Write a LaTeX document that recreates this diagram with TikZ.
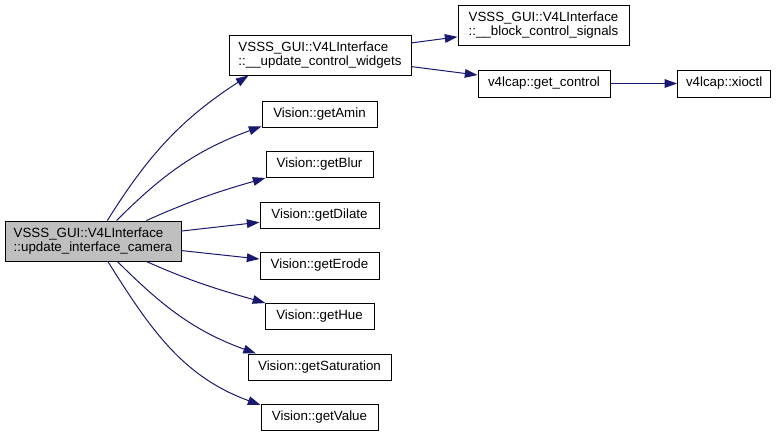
\documentclass[tikz,border=0pt]{standalone}
\usepackage{fontspec}
\setmainfont{Liberation Sans}
\usepackage{tikz}
\usetikzlibrary{arrows.meta,positioning}
\definecolor{edgeblue}{HTML}{191970}
\tikzset{
    call/.style={-{Triangle[length=9.5pt, width=6.5pt]}, edgeblue, line width=0.75pt},
    func/.style={draw, rectangle, line width=0.75pt, minimum height=19.5pt, inner sep=2pt, font=\fontsize{10}{10.5}\selectfont},
    twoline/.style={func, align=left, minimum height=30pt},
    root/.style={twoline, fill=black!25}
}

\begin{document}
\begin{tikzpicture}[x=0.75pt, y=0.75pt]
                    \useasboundingbox (0,0) rectangle (781,437);
                    \node[root, minimum width=132pt] (main) at (93,196) {VSSS\_GUI::V4LInterface\\::update\_interface\_camera};
                    \node[twoline, minimum width=136.5pt] (ucw) at (320,382) {VSSS\_GUI::V4LInterface\\::\_\_update\_control\_widgets};
                    \node[func, minimum width=86.25pt] (amin) at (319.5,323) {Vision::getAmin};
                    \node[func, minimum width=80.25pt] (blur) at (319.5,272.5) {Vision::getBlur};
                    \node[func, minimum width=89.25pt] (dilate) at (319.5,221.5) {Vision::getDilate};
                    \node[func, minimum width=89.25pt, minimum height=20.25pt] (erode) at (319.5,171.5) {Vision::getErode};
                    \node[func, minimum width=81.75pt] (hue) at (319.5,120.5) {Vision::getHue};
                    \node[func, minimum width=107.25pt] (sat) at (319.5,70) {Vision::getSaturation};
                    \node[func, minimum width=87.75pt] (value) at (319.5,19.5) {Vision::getValue};
                    \node[twoline, minimum width=128.25pt] (block) at (543.5,411.5) {VSSS\_GUI::V4LInterface\\::\_\_block\_control\_signals};
                    \node[func, minimum width=99pt, minimum height=20.25pt] (gc) at (544,353.5) {v4lcap::get\_control};
                    \node[func, minimum width=69.75pt, minimum height=20.25pt, right=50pt of gc] (xioctl) {v4lcap::xioctl};
                    \draw[call] (main.55) to[out=58, in=213] (ucw.196);
                    \draw[call] (main.41) to[out=45, in=200] (amin.192);
                    \draw[call] (main.21) to[out=24, in=196] (blur.194);
                    \draw[call] (main) -- (dilate);
                    \draw[call] (main) -- (erode);
                    \draw[call] (main.-21) to[out=-24, in=164] (hue.166);
                    \draw[call] (main.-40) to[out=-45, in=160] (sat.168);
                    \draw[call] (main.-54) to[out=-58, in=160] (value.168);
                    \draw[call] (ucw) -- (block);
                    \draw[call] (ucw) -- (gc);
                    \draw[call] (gc) -- (xioctl);
                \end{tikzpicture}
\end{document}
